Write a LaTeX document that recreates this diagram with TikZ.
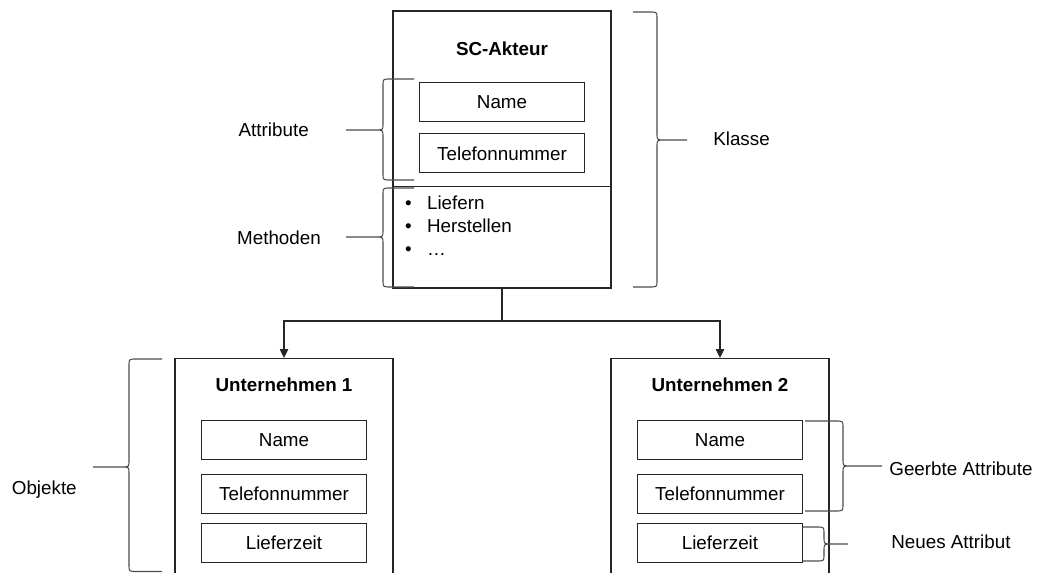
\documentclass[tikz,border=0pt]{standalone}
\usepackage{fontspec}
\setmainfont{Liberation Sans}
\usetikzlibrary{arrows.meta,positioning}
\newcommand{\schrift}{\fontsize{9.4}{11.5}\selectfont}
% Klammer: Spitze x, Koerper x, Zeiger x, oben, Mitte, unten, Richtung
\newcommand{\klammer}[7]{%
  \draw[klammer] (#1,#4) -- ({#2-8*(#7)},#4) .. controls (#2,#4) .. (#2,{#4+6})
    -- (#2,{#5-6}) .. controls (#2,#5) .. ({#2+8*(#7)},#5) -- (#3,#5)
    ({#2+8*(#7)},#5) .. controls (#2,#5) .. (#2,{#5+6})
    -- (#2,{#6-6}) .. controls (#2,#6) .. ({#2-8*(#7)},#6) -- (#1,#6);}
\tikzset{
    %Define standard arrow tip
    >={Triangle[length=4.5pt,width=4.2pt]},
    %Define style for boxes
    klasse/.style={
           rectangle,
           draw=black!85, line width=0.6pt,
           minimum width=109pt,
           minimum height=138.5pt},
    objekt/.style={
           rectangle,
           draw=black!85, line width=0.6pt,
           minimum width=109pt,
           minimum height=130pt,
           anchor=north},
    attr/.style={
           rectangle,
           draw=black!85, line width=0.6pt,
           minimum width=82.5pt,
           minimum height=19.5pt,
           inner sep=0pt,
           font=\schrift},
    titel/.style={
           inner sep=0pt,
           font=\schrift\bfseries,
           text height=6.8pt, text depth=0pt},
    beschr/.style={
           inner sep=0pt,
           font=\schrift,
           text height=6.8pt, text depth=0pt},
    % Define line styles
    klammer/.style={draw=black!70, line width=0.55pt},
    pfeil/.style={->, draw=black!85, line width=0.6pt}
}
\begin{document}
\begin{tikzpicture}[x=0.5pt,y=-0.5pt]
\useasboundingbox (0,0) rectangle (1040,573);
\clip (0,0) rectangle (1040,573);
% Klasse
\node[klasse] (akteur) at (502,149.5) {};
\node[titel] (akteurtitel) at (502,48.3) {SC-Akteur};
\node[attr, below=35.7pt of akteur.north] (name0) {Name};
\node[attr, below=5.6pt of name0] (tel0) {Telefonnummer};
\draw[draw=black!85, line width=0.6pt] ([yshift=-88pt]akteur.north west) -- ([yshift=-88pt]akteur.north east);
\foreach \m [count=\i] in {Liefern,Herstellen,\dots}
  \node[inner sep=0pt, font=\schrift, anchor=base west] (methode\i) at (404.7,{209.3+23*(\i-1)}) {\makebox[11pt][l]{\textbullet}\m};
% Objekte
\foreach \n/\x in {1/284,2/720} {
  \node[objekt] (u\n) at (\x,358) {};
  \node[titel] (titel\n) at (\x,384.7) {Unternehmen \n};
  \node[attr, below=31pt of u\n.north] (name\n) {Name};
  \node[attr, below=6.9pt of name\n] (tel\n) {Telefonnummer};
  \node[attr, below=4.3pt of tel\n] (lief\n) {Lieferzeit};
}
\coordinate (knick) at (502,321);
\draw[pfeil,-] (akteur.south) -- (knick);
\draw[pfeil] (knick) -| (u1.north);
\draw[pfeil] (knick) -| (u2.north);
% Klammern
\klammer{414}{383}{346}{79}{130}{180}{-1}
\klammer{414}{383}{346}{188}{237}{287}{-1}
\klammer{633}{657}{687}{12}{140}{287}{1}
\klammer{162}{129}{93}{359}{467}{571.5}{-1}
\klammer{805}{843}{882}{421}{466}{511}{1}
\klammer{803}{824}{848}{527}{544}{561}{1}
\node[beschr] (attribute) at (273.7,129.7) {Attribute};
\node[beschr] (methoden) at (279,237.5) {Methoden};
\node[beschr] (klasselabel) at (741.5,138.7) {Klasse};
\node[beschr] (objekte) at (44.3,487.5) {Objekte};
\node[beschr, anchor=west] (geerbt) at (889,469) {Geerbte Attribute};
\node[beschr, anchor=west] (neu) at (891,542) {Neues Attribut};
\end{tikzpicture}
\end{document}
